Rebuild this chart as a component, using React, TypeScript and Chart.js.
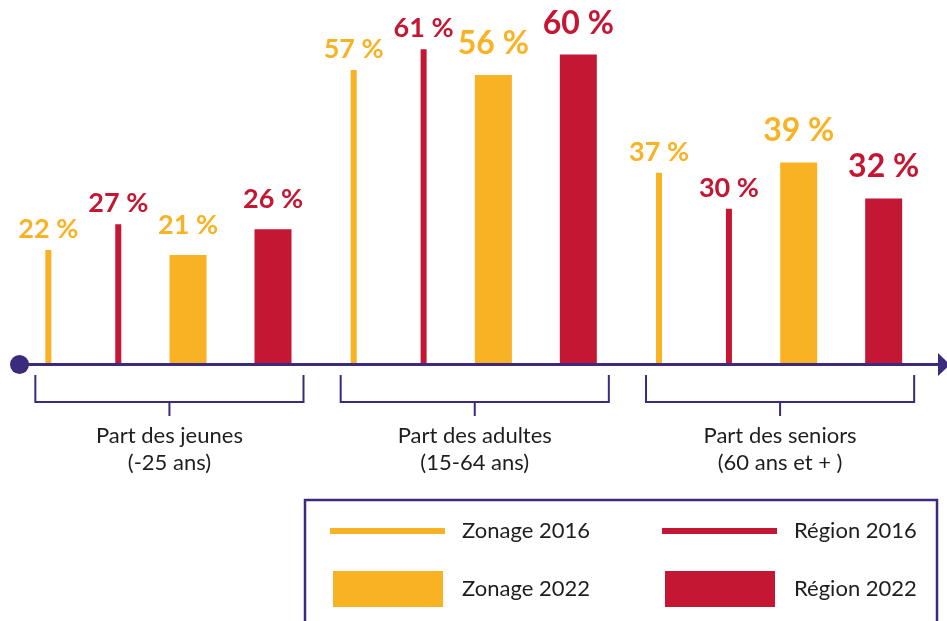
import React, { useEffect, useRef } from 'react';
import { Chart, registerables } from 'chart.js';

Chart.register(...registerables);

// ---- Data ----
const categories: string[][] = [
  ['Part des jeunes', '(-25 ans)'],
  ['Part des adultes', '(15-64 ans)'],
  ['Part des seniors', '(60 ans et + )'],
];
const seriesLabels = ['Zonage 2016', 'Région 2016', 'Zonage 2022', 'Région 2022'];
const zonage2016 = [22, 57, 37];
const region2016 = [27, 61, 30];
const zonage2022 = [21, 56, 39];
const region2022 = [26, 60, 32];

// ---- Style ----
const ORANGE = '#F9B224';
const RED = '#C31733';
const PURPLE = '#3C2B7C';
const TEXT = '#1E1E1E';
const FONT = 'Lato, "DejaVu Sans", sans-serif';

const W = 947;
const H = 621;

const decorPlugin = {
  id: 'decor',
  afterDatasetsDraw(chart: any) {
    const { ctx, chartArea } = chart;
    const base = chartArea.bottom;
    ctx.save();
    // value labels
    chart.data.datasets.forEach((ds: any, i: number) => {
      const meta = chart.getDatasetMeta(i);
      meta.data.forEach((bar: any, j: number) => {
        const v = ds.data[j];
        const size = ds.thin ? 27 : j === 0 ? 27 : 32;
        ctx.font = `bold ${size}px ${FONT}`;
        ctx.fillStyle = ds.backgroundColor;
        ctx.textAlign = 'center';
        ctx.textBaseline = 'alphabetic';
        ctx.fillText(`${v} %`, bar.x, bar.y - (ds.thin ? 12 : 21));
      });
    });
    // axis line
    ctx.strokeStyle = PURPLE;
    ctx.fillStyle = PURPLE;
    ctx.lineWidth = 3;
    const ay = base + 1.5;
    const x0 = chartArea.left + 15.5;
    ctx.beginPath();
    ctx.moveTo(x0, ay);
    ctx.lineTo(W - 8, ay);
    ctx.stroke();
    ctx.beginPath();
    ctx.arc(x0, ay, 9.5, 0, Math.PI * 2);
    ctx.fill();
    ctx.beginPath();
    ctx.moveTo(W - 9, ay - 11.5);
    ctx.lineTo(W + 3, ay);
    ctx.lineTo(W - 9, ay + 11.5);
    ctx.closePath();
    ctx.fill();

    // brackets + category labels
    ctx.lineWidth = 2;
    categories.forEach((lines, j) => {
      let l = Infinity;
      let r = -Infinity;
      chart.data.datasets.forEach((_: any, i: number) => {
        const bar: any = chart.getDatasetMeta(i).data[j];
        l = Math.min(l, bar.x - bar.width / 2);
        r = Math.max(r, bar.x + bar.width / 2);
      });
      l -= 10;
      r += 12;
      const c = (l + r) / 2;
      ctx.beginPath();
      ctx.moveTo(l, base + 12);
      ctx.lineTo(l, base + 39);
      ctx.lineTo(r, base + 39);
      ctx.lineTo(r, base + 12);
      ctx.moveTo(c, base + 39);
      ctx.lineTo(c, base + 53);
      ctx.stroke();
      ctx.fillStyle = TEXT;
      ctx.font = `22px ${FONT}`;
      ctx.textAlign = 'center';
      lines.forEach((t, k) => {
        ctx.fillText(t, c, base + 80 + k * 27);
      });
    });

    // legend box
    ctx.lineWidth = 2.5;
    ctx.strokeStyle = PURPLE;
    ctx.strokeRect(305, 500, 632, 160);
    const cols = [330, 662];
    const rows = [531, 589];
    chart.data.datasets.forEach((ds: any, i: number) => {
      const cx = cols[i % 2];
      const cy = rows[Math.floor(i / 2)];
      ctx.fillStyle = ds.backgroundColor;
      if (ds.thin) {
        ctx.fillRect(cx, cy - 3, 115, 6);
      } else {
        ctx.fillRect(cx + 3, cy - 18, 110, 36);
      }
      ctx.fillStyle = TEXT;
      ctx.font = `22px ${FONT}`;
      ctx.textAlign = 'left';
      ctx.textBaseline = 'middle';
      ctx.fillText(ds.label, cx + 132, cy);
      ctx.textBaseline = 'alphabetic';
    });
    ctx.restore();
  },
};

export default function App() {
  const ref = useRef<HTMLCanvasElement | null>(null);
  useEffect(() => {
    if (!ref.current) return;
    const seriesData = [zonage2016, region2016, zonage2022, region2022];
    const colors = [ORANGE, RED, ORANGE, RED];
    const cps = [0.946, 1.006, 0.822, 1.016];
    const chart = new Chart(ref.current, {
      type: 'bar',
      data: {
        labels: categories.map((c) => c.join(' ')),
        datasets: seriesData.map((d, i) => ({
          label: seriesLabels[i],
          data: d,
          backgroundColor: colors[i],
          categoryPercentage: cps[i],
          barPercentage: 1,
          maxBarThickness: i < 2 ? 6 : 37,
          thin: i < 2,
        })) as any,
      },
      options: {
        animation: false,
        responsive: false,
        maintainAspectRatio: false,
        layout: { padding: { left: 4, right: 27, top: 0, bottom: 258 } },
        plugins: { legend: { display: false }, tooltip: { enabled: false } },
        scales: {
          x: { display: false, offset: true },
          y: { display: false, min: 0, max: 70.6 },
        },
      },
      plugins: [decorPlugin],
    });
    return () => chart.destroy();
  }, []);
  return (
    <div style={{ position: 'fixed', left: 0, top: 0, width: W, height: H, background: '#fff' }}>
      <canvas ref={ref} width={W} height={H} style={{ display: 'block', width: W, height: H }} />
    </div>
  );
}
